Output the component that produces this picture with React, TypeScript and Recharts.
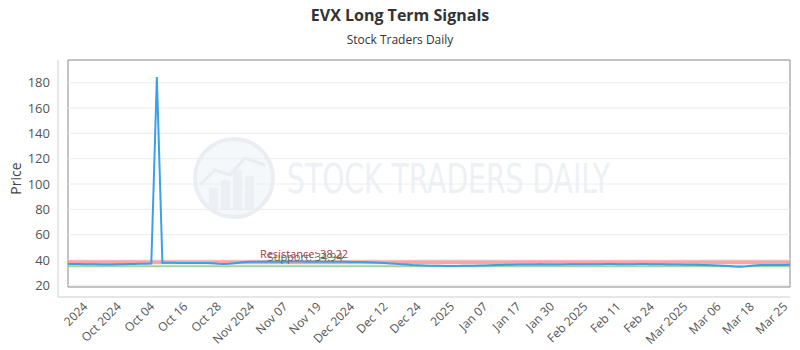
import React from "react";
import { LineChart, Line, XAxis, YAxis, ReferenceLine, ReferenceArea, ReferenceDot } from "recharts";

const TITLE = "EVX Long Term Signals";
const SUBTITLE = "Stock Traders Daily";
const Y_LABEL = "Price";

const price: number[] = [
  36.8, 36.7, 36.7, 36.6, 36.5, 36.5, 36.4, 36.4, 36.4, 36.5, 36.6, 36.7, 36.8, 36.9, 37.0,
  37.1,
  184.5,
  37.8, 37.7, 37.7, 37.6, 37.6, 37.5, 37.6, 37.6, 37.5, 37.3, 37.0, 36.8, 36.9, 37.4, 37.9,
  38.3, 38.5, 38.6, 38.6, 38.7, 38.6, 38.5, 38.6, 38.7, 38.8, 38.7, 38.6, 38.6, 38.7, 38.6, 38.5, 38.6, 38.6, 38.5, 38.4, 38.4, 38.3, 38.2,
  38.0, 37.8, 37.5, 37.2, 36.9, 36.6, 36.3, 36.0, 35.8, 35.6,
  35.4, 35.3, 35.3, 35.2, 35.2, 35.2, 35.3, 35.3, 35.4, 35.5, 35.6,
  35.8, 35.9, 36.0, 36.1, 36.2, 36.3, 36.3,
  36.4, 36.4, 36.5, 36.4, 36.4, 36.3, 36.4, 36.5, 36.5, 36.6, 36.6, 36.5, 36.5, 36.6, 36.7, 36.7, 36.6, 36.6, 36.5, 36.6, 36.7, 36.7, 36.6, 36.5, 36.5, 36.4, 36.4, 36.3, 36.2, 36.2, 36.1, 36.0, 35.9, 35.7, 35.5, 35.3, 35.1,
  34.8, 34.6, 34.9, 35.4, 35.7,
  35.9, 36.0, 36.0, 35.9, 36.0, 36.1,
];

const resistance = 38.22;
const support = 34.94;
const resistanceLabelIndex = 42.5;
const supportLabelIndex = 42.7;

const tickLabels: string[] = [
  "2024", "Oct 2024", "Oct 04", "Oct 16", "Oct 28", "Nov 2024", "Nov 07", "Nov 19",
  "Dec 2024", "Dec 12", "Dec 24", "2025", "Jan 07", "Jan 17", "Jan 30", "Feb 2025",
  "Feb 11", "Feb 24", "Mar 2025", "Mar 06", "Mar 18", "Mar 25",
];
const tickIndices: number[] = [4, 10, 16, 22, 28, 34, 40, 46, 52, 58, 64, 70, 76, 82, 88, 94, 100, 106, 112, 118, 124, 130];

const yTicks: number[] = [20, 40, 60, 80, 100, 120, 140, 160, 180];
const yDomain: [number, number] = [18.6, 198];

const data = price.map((p, i) => ({ i, price: p }));
const lastIndex = price.length - 1;

const FONT = "'Open Sans', 'Noto Sans', sans-serif";

const XTick = (props: any) => {
  const { x, y, payload } = props;
  const k = tickIndices.indexOf(payload.value);
  const label = k >= 0 ? tickLabels[k] : "";
  const tx = x - 4;
  const ty = y + 6;
  return (
    <text
      x={tx}
      y={ty}
      transform={`rotate(-45 ${tx} ${ty})`}
      textAnchor="end"
      dominantBaseline="middle"
      fontSize={12}
      fontFamily={FONT}
      fill="#555"
    >
      {label}
    </text>
  );
};

const Watermark = () => (
  <svg width={800} height={350} style={{ position: "absolute", left: 0, top: 0 }}>
    <circle cx={234} cy={178} r={39} fill="#f5f8fa" stroke="#eaeef2" strokeWidth={4} />
    <rect x={209} y={188} width={9} height={22} fill="#ecf0f4" />
    <rect x={221} y={180} width={9} height={30} fill="#ecf0f4" />
    <rect x={233} y={170} width={9} height={40} fill="#ecf0f4" />
    <rect x={245} y={176} width={9} height={34} fill="#ecf0f4" />
    <polyline points="200,185 215,170 230,175 245,158 265,165" fill="none" stroke="#e9edf1" strokeWidth={3} />
    <text
      x={287}
      y={193}
      fontSize={40}
      fontFamily="'Liberation Sans Narrow', 'DejaVu Sans Condensed', sans-serif"
      fill="#edf1f5"
      textLength={323}
      lengthAdjust="spacingAndGlyphs"
    >
      STOCK TRADERS DAILY
    </text>
    <text x={400} y={21} textAnchor="middle" fontSize={16} fontWeight="bold" fontFamily={FONT} fill="#333">
      {TITLE}
    </text>
    <text x={400} y={44} textAnchor="middle" fontSize={12} fontFamily={FONT} fill="#333">
      {SUBTITLE}
    </text>
  </svg>
);

export default function App() {
  return (
    <div style={{ position: "absolute", left: 0, top: 0, width: 800, height: 350, background: "#fff" }}>
      <Watermark />
      <div style={{ position: "absolute", left: 0, top: 0 }}>
        <LineChart width={800} height={350} data={data} margin={{ top: 60, right: 10, bottom: 0, left: 0 }}>
          <XAxis
            dataKey="i"
            type="number"
            domain={[0, lastIndex]}
            ticks={tickIndices}
            interval={0}
            padding={{ left: 10, right: 0 }}
            height={53}
            tickLine={false}
            tickSize={0}
            axisLine={{ stroke: "#ccc" }}
            tick={<XTick />}
          />
          <YAxis
            type="number"
            domain={yDomain}
            ticks={yTicks}
            interval={0}
            allowDataOverflow
            width={58}
            padding={{ top: 0, bottom: 10 }}
            tickLine={false}
            tickSize={0}
            tickMargin={8}
            axisLine={{ stroke: "#ccc" }}
            tick={{ fontSize: 13, fontFamily: FONT, fill: "#555" }}
            label={{
              value: Y_LABEL,
              angle: -90,
              position: "insideLeft",
              offset: 16,
              style: { textAnchor: "middle", fontSize: 14, fontFamily: FONT, fill: "#444" },
            }}
          />
          {yTicks.map((t) => (
            <ReferenceLine
              key={t}
              segment={[{ x: 0, y: t }, { x: lastIndex, y: t }]}
              stroke="#ececec"
              strokeWidth={1}
            />
          ))}
          <ReferenceLine
            segment={[{ x: 0, y: resistance }, { x: lastIndex, y: resistance }]}
            stroke="#f08a8a"
            strokeOpacity={0.75}
            strokeWidth={4}
          />
          <ReferenceLine
            segment={[{ x: 0, y: support }, { x: lastIndex, y: support }]}
            stroke="#86c98a"
            strokeOpacity={0.8}
            strokeWidth={2}
          />
          <Line
            type="linear"
            dataKey="price"
            stroke="#3aa0e8"
            strokeWidth={2}
            dot={false}
            isAnimationActive={false}
          />
          <ReferenceDot
            x={resistanceLabelIndex}
            y={resistance}
            r={0}
            label={{
              value: `Resistance: ${resistance.toFixed(2)}`,
              position: "top",
              offset: 4,
              style: { fontSize: 11, fontFamily: FONT, fill: "#a33a3a" },
            }}
          />
          <ReferenceDot
            x={supportLabelIndex}
            y={support}
            r={0}
            label={{
              value: `Support: ${support.toFixed(2)}`,
              position: "top",
              offset: 5,
              style: { fontSize: 11, fontFamily: FONT, fill: "#5c6e5c" },
            }}
          />
          <ReferenceArea
            x1={0}
            x2={lastIndex}
            y1={yDomain[0]}
            y2={yDomain[1]}
            fill="none"
            stroke="#888"
            strokeWidth={1}
            ifOverflow="visible"
          />
        </LineChart>
      </div>
    </div>
  );
}
